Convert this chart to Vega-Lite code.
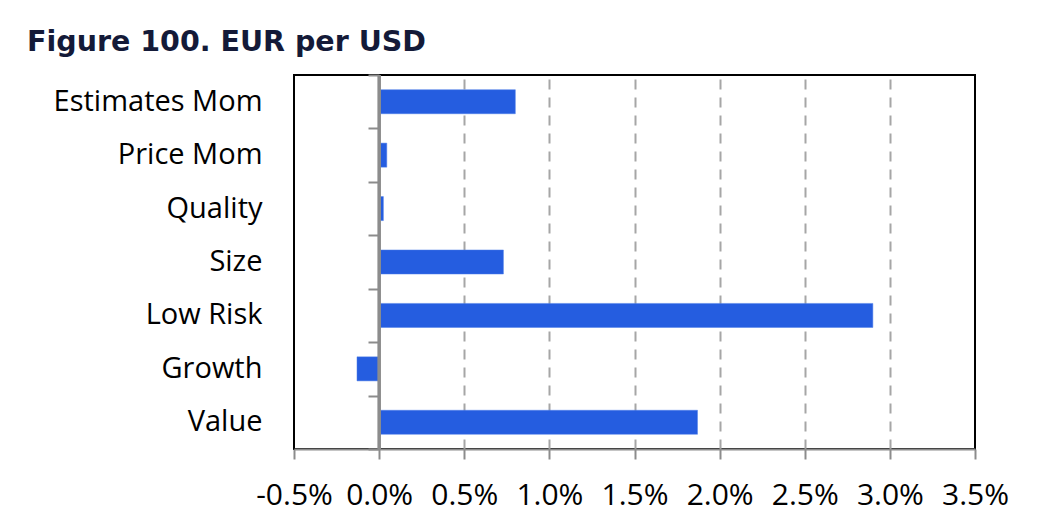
{
  "$schema": "https://vega.github.io/schema/vega-lite/v6.json",
  "autosize": {"type": "none"},
  "padding": {"left": 294, "top": 75, "right": 83, "bottom": 70},
  "width": 681,
  "height": 374,
  "background": "white",
  "title": {
    "text": "Figure 100. EUR per USD",
    "anchor": "start",
    "frame": "group",
    "dx": -267,
    "offset": 17,
    "font": "DejaVu Sans",
    "fontSize": 28.5,
    "fontWeight": "bold",
    "color": "#141a38"
  },
  "config": {
    "view": {"stroke": "black", "strokeWidth": 2},
    "axis": {"labelFont": "Open Sans", "labelColor": "#000000"}
  },
  "data": {
    "values": [
      {"factor": "Estimates Mom", "value": 0.0080},
      {"factor": "Price Mom", "value": 0.00045},
      {"factor": "Quality", "value": 0.00025},
      {"factor": "Size", "value": 0.0073},
      {"factor": "Low Risk", "value": 0.0290},
      {"factor": "Growth", "value": -0.0013},
      {"factor": "Value", "value": 0.0187}
    ]
  },
  "resolve": {"axis": {"y": "independent"}, "scale": {"y": "independent"}},
  "layer": [
    {
      "mark": {"type": "bar", "color": "#255de0", "stroke": "#4f7fe8", "strokeWidth": 0.5},
      "encoding": {
        "y": {
          "field": "factor",
          "type": "nominal",
          "sort": null,
          "scale": {"paddingInner": 0.55, "paddingOuter": 0.275},
          "axis": {
            "title": null,
            "domain": false,
            "ticks": false,
            "labelPadding": 32,
            "labelFontSize": 29,
            "labelLimit": 400
          }
        },
        "x": {
          "field": "value",
          "type": "quantitative",
          "scale": {"domain": [-0.005, 0.035], "nice": false, "zero": false},
          "axis": {
            "title": null,
            "values": [-0.005, 0, 0.005, 0.01, 0.015, 0.02, 0.025, 0.03, 0.035],
            "labelExpr": "replace(format(datum.value, '.1%'), '\u2212', '-')",
            "domainColor": "#8c8c8c",
            "domainWidth": 2,
            "tickColor": "#8c8c8c",
            "tickWidth": 2,
            "tickSize": 10,
            "labelPadding": 21,
            "labelFontSize": 30,
            "labelFlush": false,
            "labelOverlap": false,
            "grid": true,
            "gridColor": "#a6a6a6",
            "gridWidth": 2,
            "gridDash": [10, 8],
            "gridOpacity": {"condition": {"test": "datum.value < 0.001 || datum.value > 0.034", "value": 0}, "value": 1}
          }
        }
      }
    },
    {
      "mark": {"type": "bar", "opacity": 0},
      "encoding": {
        "y": {
          "field": "factor",
          "type": "nominal",
          "sort": null,
          "scale": {"paddingInner": 0, "paddingOuter": 0},
          "axis": {
            "title": null,
            "orient": "right",
            "offset": -596,
            "labels": false,
            "domain": false,
            "ticks": true,
            "tickBand": "extent",
            "tickColor": "#8c8c8c",
            "tickWidth": 2,
            "tickSize": -11
          }
        },
        "x": {"field": "value", "type": "quantitative"}
      }
    },
    {
      "mark": {"type": "rule", "color": "#8c8c8c", "strokeWidth": 2.5},
      "encoding": {"x": {"datum": 0}}
    }
  ]
}
